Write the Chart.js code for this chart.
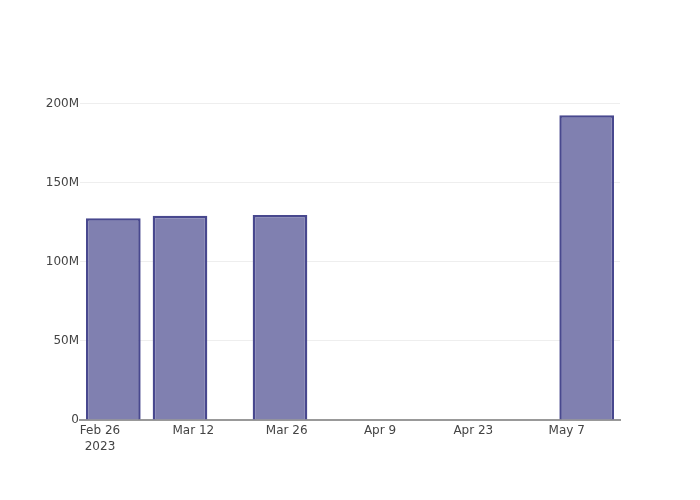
<!DOCTYPE html>
<html>
<head>
<meta charset="utf-8">
<script src="https://cdn.jsdelivr.net/npm/chart.js@4"></script>
<style>
  html, body { margin: 0; padding: 0; background: #fff; }
  #wrap { width: 700px; height: 500px; }
</style>
</head>
<body>
<div id="wrap"><canvas id="chart" width="700" height="500"></canvas></div>
<script>
// bar dates and values
const barDates = ['2023-02-28', '2023-03-10', '2023-03-25', '2023-05-10'];
const barValues = [127.7e6, 129.3e6, 129.7e6, 192.8e6];

// x ticks, in days from Feb 26 2023
const tickDays = [0, 14, 28, 42, 56, 70];
const tickLabels = [['Feb 26', '2023'], 'Mar 12', 'Mar 26', 'Apr 9', 'Apr 23', 'May 7'];
const yTicks = [0, 50e6, 100e6, 150e6, 200e6];
const yTickLabels = ['0', '50M', '100M', '150M', '200M'];

const origin = Date.UTC(2023, 1, 26);
const dayOf = (s) => {
  const p = s.split('-').map(Number);
  return (Date.UTC(p[0], p[1] - 1, p[2]) - origin) / 86400000;
};

const points = barDates.map((d, i) => ({ x: dayOf(d), y: barValues[i] }));

Chart.defaults.font.family = '"DejaVu Sans", "Open Sans", sans-serif';
Chart.defaults.font.size = 12;
Chart.defaults.color = '#444';

const ctx = document.getElementById('chart').getContext('2d');
const chart = new Chart(ctx, {
  type: 'bar',
  data: {
    datasets: [
      {
        data: points,
        backgroundColor: 'rgb(128, 128, 176)',
        borderColor: 'rgb(72, 72, 142)',
        borderWidth: 2.5,
        borderSkipped: 'start',
        categoryPercentage: 0.82,
        barPercentage: 1,
      },
    ],
  },
  options: {
    responsive: false,
    animation: false,
    layout: { padding: { top: 100, right: 80, left: 0, bottom: 0 } },
    plugins: {
      legend: { display: false },
      tooltip: { enabled: false },
    },
    scales: {
      x: {
        type: 'linear',
        offset: false,
        min: -3,
        max: 78,
        afterBuildTicks: (scale) => {
          scale.ticks = tickDays.map((v) => ({ value: v }));
        },
        afterFit: (scale) => { scale.height = 80; },
        ticks: {
          autoSkip: false,
          maxRotation: 0,
          padding: 3,
          font: { lineHeight: 1.35 },
          callback: (value) => tickLabels[tickDays.indexOf(value)],
        },
        grid: { display: false, drawTicks: false, offset: false },
        border: { display: true, color: '#999', width: 2 },
      },
      y: {
        min: 0,
        max: 202.5e6,
        afterBuildTicks: (scale) => {
          scale.ticks = yTicks.map((v) => ({ value: v }));
        },
        afterFit: (scale) => { scale.width = 80; },
        ticks: {
          padding: 1,
          callback: (value) => yTickLabels[yTicks.indexOf(value)],
        },
        grid: { color: '#eee', lineWidth: 1, drawTicks: false },
        border: { display: false },
      },
    },
  },
});
</script>
</body>
</html>
